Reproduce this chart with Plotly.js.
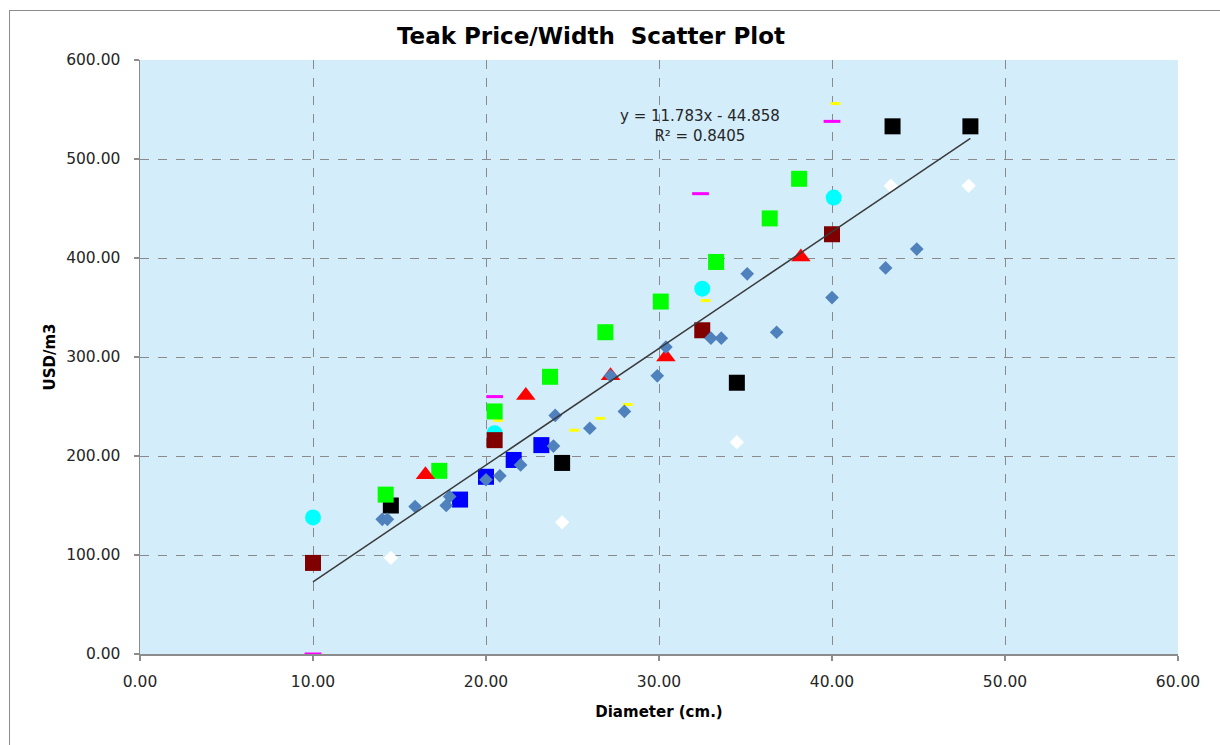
<!DOCTYPE html>
<html>
<head>
<meta charset="utf-8">
<script src="https://cdn.plot.ly/plotly-3.0.1.min.js"></script>
<style>
  html, body { margin: 0; padding: 0; background: #ffffff; overflow: hidden; }
  #wrap { position: relative; width: 1220px; height: 745px; }
  #chart { position: absolute; left: 0; top: 0; width: 1220px; height: 745px; }
  #frame { position: absolute; left: 9px; top: 10px; width: 1300px; height: 800px;
           border: 1.5px solid #8c8c8c; pointer-events: none; }
</style>
</head>
<body>
<div id="wrap">
  <div id="chart"></div>
  <div id="frame"></div>
</div>
<script>
// ---- data ----
const steelX = [14.0, 14.3, 15.9, 17.7, 17.9, 20.0, 20.8, 22.0, 23.9, 24.0, 26.0, 28.0, 27.2, 29.9, 30.4, 33.0, 33.6, 36.8, 35.1, 40.0, 43.1, 44.9];
const steelY = [136, 136, 149, 150, 159, 176, 180, 191, 210, 241, 228, 245, 281, 281, 310, 319, 319, 325, 384, 360, 390, 409];

const whiteX = [14.5, 24.4, 34.5, 43.4, 47.9];
const whiteY = [97, 133, 214, 473, 473];

const blackX = [14.5, 24.4, 34.5, 43.5, 48.0];
const blackY = [150, 193, 274, 533, 533];

const greenX = [14.2, 17.3, 20.5, 23.7, 26.9, 30.1, 33.3, 36.4, 38.1];
const greenY = [161, 185, 245, 280, 325, 356, 396, 440, 480];

const redX = [16.5, 22.3, 27.2, 30.4, 38.2];
const redY = [181, 261, 281, 300, 401];

const maroonX = [10.0, 20.5, 32.5, 40.0];
const maroonY = [92, 216, 327, 424];

const blueX = [18.5, 20.0, 21.6, 23.2];
const blueY = [156, 179, 196, 211];

const cyanX = [10.0, 20.5, 32.5, 40.1];
const cyanY = [138, 223, 369, 461];

const magentaX = [10.0, 20.5, 32.4, 40.0];
const magentaY = [0, 260, 465, 538];

const yellowX = [20.7, 25.1, 26.6, 28.2, 32.7, 40.2];
const yellowY = [236, 226, 238, 252, 357, 556];

// linear trendline as labelled on the chart
const trendSlope = 11.783;
const trendIntercept = -44.858;
const trendR2 = 0.8405;
const trendX = [10, 48];
const trendY = trendX.map(x => trendSlope * x + trendIntercept);

const xTickVals = [0, 10, 20, 30, 40, 50, 60];
const yTickVals = [0, 100, 200, 300, 400, 500, 600];

// ---- traces ----
function sc(x, y, marker) {
  return { type: 'scatter', mode: 'markers', x: x, y: y, marker: marker, hoverinfo: 'x+y', showlegend: false };
}

const traces = [
  sc(magentaX, magentaY, { symbol: 'line-ew', size: 12, line: { color: '#ff00ff', width: 3 } }),
  sc(yellowX, yellowY, { symbol: 'line-ew', size: 7, line: { color: '#ffff00', width: 3 } }),
  sc(cyanX, cyanY, { symbol: 'circle', size: 16, color: '#00ffff', line: { width: 0 } }),
  sc(maroonX, maroonY, { symbol: 'square', size: 16, color: '#800000', line: { width: 0 } }),
  sc(blackX, blackY, { symbol: 'square', size: 16, color: '#000000', line: { width: 0 } }),
  sc(whiteX, whiteY, { symbol: 'diamond', size: 11, color: '#ffffff', line: { width: 0 } }),
  sc(greenX, greenY, { symbol: 'square', size: 16, color: '#00ff00', line: { width: 0 } }),
  sc(redX, redY, { symbol: 'triangle-up', size: 17, color: '#ff0000', line: { width: 0 } }),
  sc(blueX, blueY, { symbol: 'square', size: 16, color: '#0000ff', line: { width: 0 } }),
  sc(steelX, steelY, { symbol: 'diamond', size: 10.5, color: '#4f81bd', line: { width: 0 } }),
  { type: 'scatter', mode: 'lines', x: trendX, y: trendY, line: { color: '#3a3a3a', width: 1.5 },
    hoverinfo: 'skip', showlegend: false }
];

const tickFont = { family: 'DejaVu Sans, sans-serif', size: 15.5, color: '#262626' };
const axisCommon = {
  showgrid: true, gridcolor: '#8a8a8a', griddash: 'dash', gridwidth: 1,
  showline: true, linecolor: '#8c8c8c', linewidth: 1.5,
  ticks: 'outside', ticklen: 5, tickcolor: '#8c8c8c', tickwidth: 1.5,
  zeroline: false, tickformat: '.2f', tickfont: tickFont
};

const layout = {
  width: 1220, height: 745,
  margin: { l: 140, r: 42, t: 60, b: 91, pad: 0 },
  paper_bgcolor: '#ffffff',
  plot_bgcolor: '#d3edfb',
  showlegend: false,
  title: {
    text: 'Teak Price/Width  Scatter Plot',
    font: { family: 'DejaVu Sans, sans-serif', size: 23, color: '#000000', weight: 'bold' },
    x: 0.4844, xref: 'container', xanchor: 'center',
    y: 0.952, yref: 'container', yanchor: 'middle'
  },
  xaxis: Object.assign({}, axisCommon, {
    range: [0, 60], tickvals: xTickVals, ticklabelstandoff: 8,
    title: { text: 'Diameter (cm.)', font: { family: 'DejaVu Sans, sans-serif', size: 15, color: '#000000', weight: 'bold' }, standoff: 16 }
  }),
  yaxis: Object.assign({}, axisCommon, {
    range: [0, 600], tickvals: yTickVals, ticklabelstandoff: 10,
    title: { text: 'USD/m3', font: { family: 'DejaVu Sans, sans-serif', size: 15, color: '#000000', weight: 'bold' }, standoff: 7 }
  }),
  annotations: [{
    xref: 'x', yref: 'y', x: 32.37, y: 533,
    text: 'y = ' + trendSlope.toFixed(3) + 'x - ' + Math.abs(trendIntercept).toFixed(3) + '<br>R² = ' + trendR2.toFixed(4),
    showarrow: false, align: 'center',
    font: { family: 'DejaVu Sans, sans-serif', size: 15, color: '#262626' }
  }]
};

Plotly.newPlot('chart', traces, layout, { displayModeBar: false, staticPlot: true });
</script>
</body>
</html>
